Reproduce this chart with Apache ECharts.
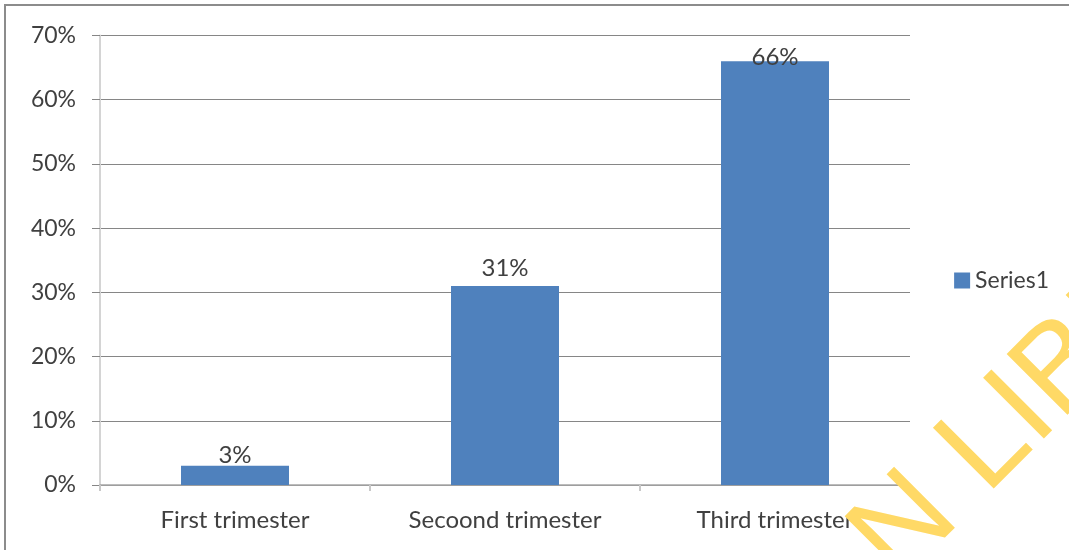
<!DOCTYPE html>
<html><head><meta charset="utf-8">
<script src="https://cdn.jsdelivr.net/npm/echarts@6/dist/echarts.min.js"></script>
<style>html,body{margin:0;padding:0;background:#fff}#c{width:1069px;height:550px}</style>
</head><body><div id="c"></div>
<script>
const categories = ['First trimester', 'Secoond trimester', 'Third trimester'];
const values = [3, 31, 66];
const seriesName = 'Series1';
const yTicks = [0, 10, 20, 30, 40, 50, 60, 70];

const chart = echarts.init(document.getElementById('c'));
const font = 'Lato';
const labelShift = [6, -2, 12];
chart.setOption({
  animation: false,
  backgroundColor: '#fff',
  grid: { left: 100, right: 159, top: 35.5, bottom: 65 },
  legend: {
    data: [seriesName], right: 15, top: 264, itemWidth: 16, itemHeight: 16, itemGap: 5,
    icon: 'rect', textStyle: { fontFamily: font, fontSize: 23, color: '#404040' }
  },
  xAxis: {
    type: 'category', data: categories,
    axisLine: { lineStyle: { color: '#a6a6a6', width: 1.5 } },
    axisTick: { show: true, length: 6, lineStyle: { color: '#c8c8c8', width: 2 } },
    axisLabel: { fontFamily: font, fontSize: 24, color: '#404040', margin: 23 }
  },
  yAxis: {
    type: 'value', min: yTicks[0], max: yTicks[yTicks.length - 1], interval: 10,
    axisLine: { show: true, lineStyle: { color: '#d4d4d4', width: 2 } },
    axisTick: { show: true, length: 8, lineStyle: { color: '#868686' } },
    axisLabel: { formatter: v => v + '%', fontFamily: font, fontSize: 23, color: '#404040', margin: 24 },
    splitLine: { lineStyle: { color: '#868686', width: 1 } }
  },
  series: [{
    name: seriesName, type: 'bar', barWidth: '40%',
    data: values.map((v, i) => ({ value: v, label: { offset: [0, labelShift[i]] } })),
    itemStyle: { color: '#4f81bd' },
    label: { show: true, position: 'top', distance: 4, formatter: p => p.value + '%',
      fontFamily: font, fontSize: 24, color: '#404040' }
  }],
  graphic: [
    { type: 'rect', shape: { x: 5, y: 5, width: 1100, height: 600 }, silent: true, z: -10,
      style: { fill: 'none', stroke: '#8c8c8c', lineWidth: 2 } },
    { type: 'group', x: 918, y: 604, rotation: Math.PI / 4, z: 100, children: [
      { type: 'text', x: 0, y: 0, z: 100,
        style: { text: 'N LIBRARY', font: '125px "Liberation Sans"', fill: '#ffd966',
          textAlign: 'left', verticalAlign: 'bottom' } }
    ] }
  ]
});
</script></body></html>
